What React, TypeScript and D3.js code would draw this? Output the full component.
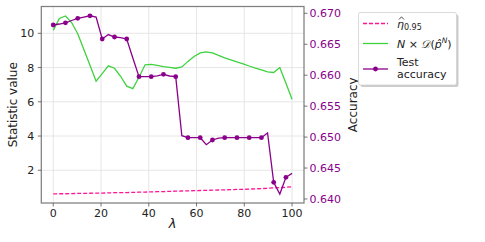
import React from "react"
import * as d3 from "d3"

// lambda grid (40 points), markers drawn on every other point
const lambdas = [0, 2.56, 5.13, 7.69, 10.26, 12.82, 15.38, 17.95, 20.51, 23.08, 25.64, 28.21, 30.77, 33.33, 35.9, 38.46, 41.03, 43.59, 46.15, 48.72, 51.28, 53.85, 56.41, 58.97, 61.54, 64.1, 66.67, 69.23, 71.79, 74.36, 76.92, 79.49, 82.05, 84.62, 87.18, 89.74, 92.31, 94.87, 97.44, 100]

const etaHat = [0.62, 0.63, 0.63, 0.64, 0.65, 0.65, 0.66, 0.67, 0.67, 0.68, 0.69, 0.7, 0.7, 0.71, 0.72, 0.73, 0.74, 0.75, 0.76, 0.77, 0.78, 0.79, 0.8, 0.81, 0.82, 0.83, 0.84, 0.85, 0.86, 0.87, 0.88, 0.89, 0.9, 0.92, 0.93, 0.95, 0.97, 0.99, 1.01, 1.04]

const nTimesD = [10.17, 10.87, 11.01, 10.63, 9.97, 9.06, 8.13, 7.2, 7.64, 8.1, 7.96, 7.49, 6.91, 6.77, 7.43, 8.16, 8.19, 8.13, 8.06, 8.01, 7.96, 8.04, 8.36, 8.65, 8.86, 8.92, 8.86, 8.71, 8.57, 8.45, 8.33, 8.22, 8.09, 7.97, 7.87, 7.75, 7.71, 8.0, 7.08, 6.15]

const testAcc = [0.66811, 0.66827, 0.66846, 0.66884, 0.66919, 0.6694, 0.6696, 0.6694, 0.66585, 0.66657, 0.66617, 0.66606, 0.66585, 0.66278, 0.65976, 0.65976, 0.65976, 0.6599, 0.66014, 0.65987, 0.65976, 0.65022, 0.6499, 0.6499, 0.6499, 0.64877, 0.64953, 0.64982, 0.6499, 0.6499, 0.6499, 0.6499, 0.6499, 0.6499, 0.6499, 0.65066, 0.64269, 0.6408, 0.6435, 0.64414]

const xTicks = [0, 20, 40, 60, 80, 100]
const leftTicks = [2, 4, 6, 8, 10]
const rightTicks = [0.64, 0.645, 0.65, 0.655, 0.66, 0.665, 0.67]

const PINK = "#ff1493"
const GREEN = "#3fd23f"
const PURPLE = "#8b008b"
const FONT = "DejaVu Sans"

export default function App() {
  const left = 41.3, right = 304, top = 6.5, bottom = 203

  const x = d3.scaleLinear().domain([-5, 105]).range([left, right])
  const yL = d3.scaleLinear().domain([0.09, 11.565]).range([bottom, top])
  const yR = d3.scaleLinear().domain([0.63935, 0.6711]).range([bottom, top])

  const lineL = d3.line<number>().x((_, i) => x(lambdas[i])).y(d => yL(d))
  const lineR = d3.line<number>().x((_, i) => x(lambdas[i])).y(d => yR(d))

  return (
    <svg width={485} height={242} style={{ position: "absolute", left: 0, top: 0 }} fontFamily={FONT}>
      <rect width={485} height={242} fill="white" />
      {/* grid */}
      {xTicks.map(t => (
        <line key={"gx" + t} x1={x(t)} x2={x(t)} y1={top} y2={bottom} stroke="#e3e3e3" strokeWidth={0.9} />
      ))}
      {leftTicks.map(t => (
        <line key={"gy" + t} x1={left} x2={right} y1={yL(t)} y2={yL(t)} stroke="#e3e3e3" strokeWidth={0.9} />
      ))}

      {/* series */}
      <path d={lineL(etaHat) || ""} fill="none" stroke={PINK} strokeWidth={1.3} strokeDasharray="4,2" />
      <path d={lineL(nTimesD) || ""} fill="none" stroke={GREEN} strokeWidth={1.3} />
      <path d={lineR(testAcc) || ""} fill="none" stroke={PURPLE} strokeWidth={1.3} />
      {testAcc.map((d, i) =>
        i % 2 === 0 ? <circle key={"m" + i} cx={x(lambdas[i])} cy={yR(d)} r={2.4} fill={PURPLE} /> : null
      )}

      {/* frame */}
      <rect x={left} y={top} width={right - left} height={bottom - top} fill="none" stroke="#7f7f7f" strokeWidth={1.25} />

      {/* x axis */}
      {xTicks.map(t => (
        <g key={"xt" + t}>
          <line x1={x(t)} x2={x(t)} y1={bottom} y2={bottom + 3.5} stroke="#555" strokeWidth={0.8} />
          <text x={x(t)} y={bottom + 14} fontSize={11} textAnchor="middle" fill="#222">{t}</text>
        </g>
      ))}
      <text x={(left + right) / 2} y={228} fontSize={13} fontStyle="italic" textAnchor="middle" fill="#222">λ</text>

      {/* left axis */}
      {leftTicks.map(t => (
        <g key={"yl" + t}>
          <line x1={left - 3.5} x2={left} y1={yL(t)} y2={yL(t)} stroke="#555" strokeWidth={0.8} />
          <text x={left - 7} y={yL(t) + 4} fontSize={11} textAnchor="end" fill="#222">{t}</text>
        </g>
      ))}
      <text transform={`translate(17,${(top + bottom) / 2}) rotate(-90)`} fontSize={12} textAnchor="middle" fill="#222">Statistic value</text>

      {/* right axis */}
      {rightTicks.map(t => (
        <g key={"yr" + t}>
          <line x1={right} x2={right + 3.5} y1={yR(t)} y2={yR(t)} stroke="#555" strokeWidth={0.8} />
          <text x={right + 5.5} y={yR(t) + 4} fontSize={11} fill={PURPLE}>{d3.format(".3f")(t)}</text>
        </g>
      ))}
      <text transform={`translate(357,${(top + bottom) / 2}) rotate(-90)`} fontSize={12} textAnchor="middle" fill="#222">Accuracy</text>

      {/* legend */}
      <g>
        <rect x={360.5} y={14.5} width={98} height={72.5} rx={2} fill="#999" opacity={0.5} />
        <rect x={358.5} y={12.5} width={98} height={72.5} rx={2} fill="white" stroke="#d0d0d0" strokeWidth={0.8} />
        <line x1={363} x2={388} y1={23.5} y2={23.5} stroke={PINK} strokeWidth={1.3} strokeDasharray="4,2" />
        <text x={397} y={28} fontSize={11} fill="#222">
          <tspan fontStyle="italic">η</tspan>
          <tspan fontSize={8} dy={2}>0.95</tspan>
        </text>
        {/* hat over eta */}
        <path d="M399,19.5 L401.5,16.8 L404,19.5" fill="none" stroke="#222" strokeWidth={0.8} />
        <line x1={363} x2={388} y1={43.5} y2={43.5} stroke={GREEN} strokeWidth={1.3} />
        <text x={397} y={47.5} fontSize={11} fill="#222">
          <tspan fontStyle="italic">N</tspan>
          <tspan> × </tspan>
          <tspan fontStyle="italic">𝒟</tspan>
          <tspan>(</tspan>
          <tspan fontStyle="italic">p̂</tspan>
          <tspan fontSize={7.5} fontStyle="italic" dy={-5}>N</tspan>
          <tspan dy={5}>)</tspan>
        </text>
        <line x1={363} x2={388} y1={69} y2={69} stroke={PURPLE} strokeWidth={1.3} />
        <circle cx={375.5} cy={69} r={2.4} fill={PURPLE} />
        <text x={397} y={65.5} fontSize={11} fill="#222">Test</text>
        <text x={397} y={77.5} fontSize={11} fill="#222">accuracy</text>
      </g>
    </svg>
  )
}
